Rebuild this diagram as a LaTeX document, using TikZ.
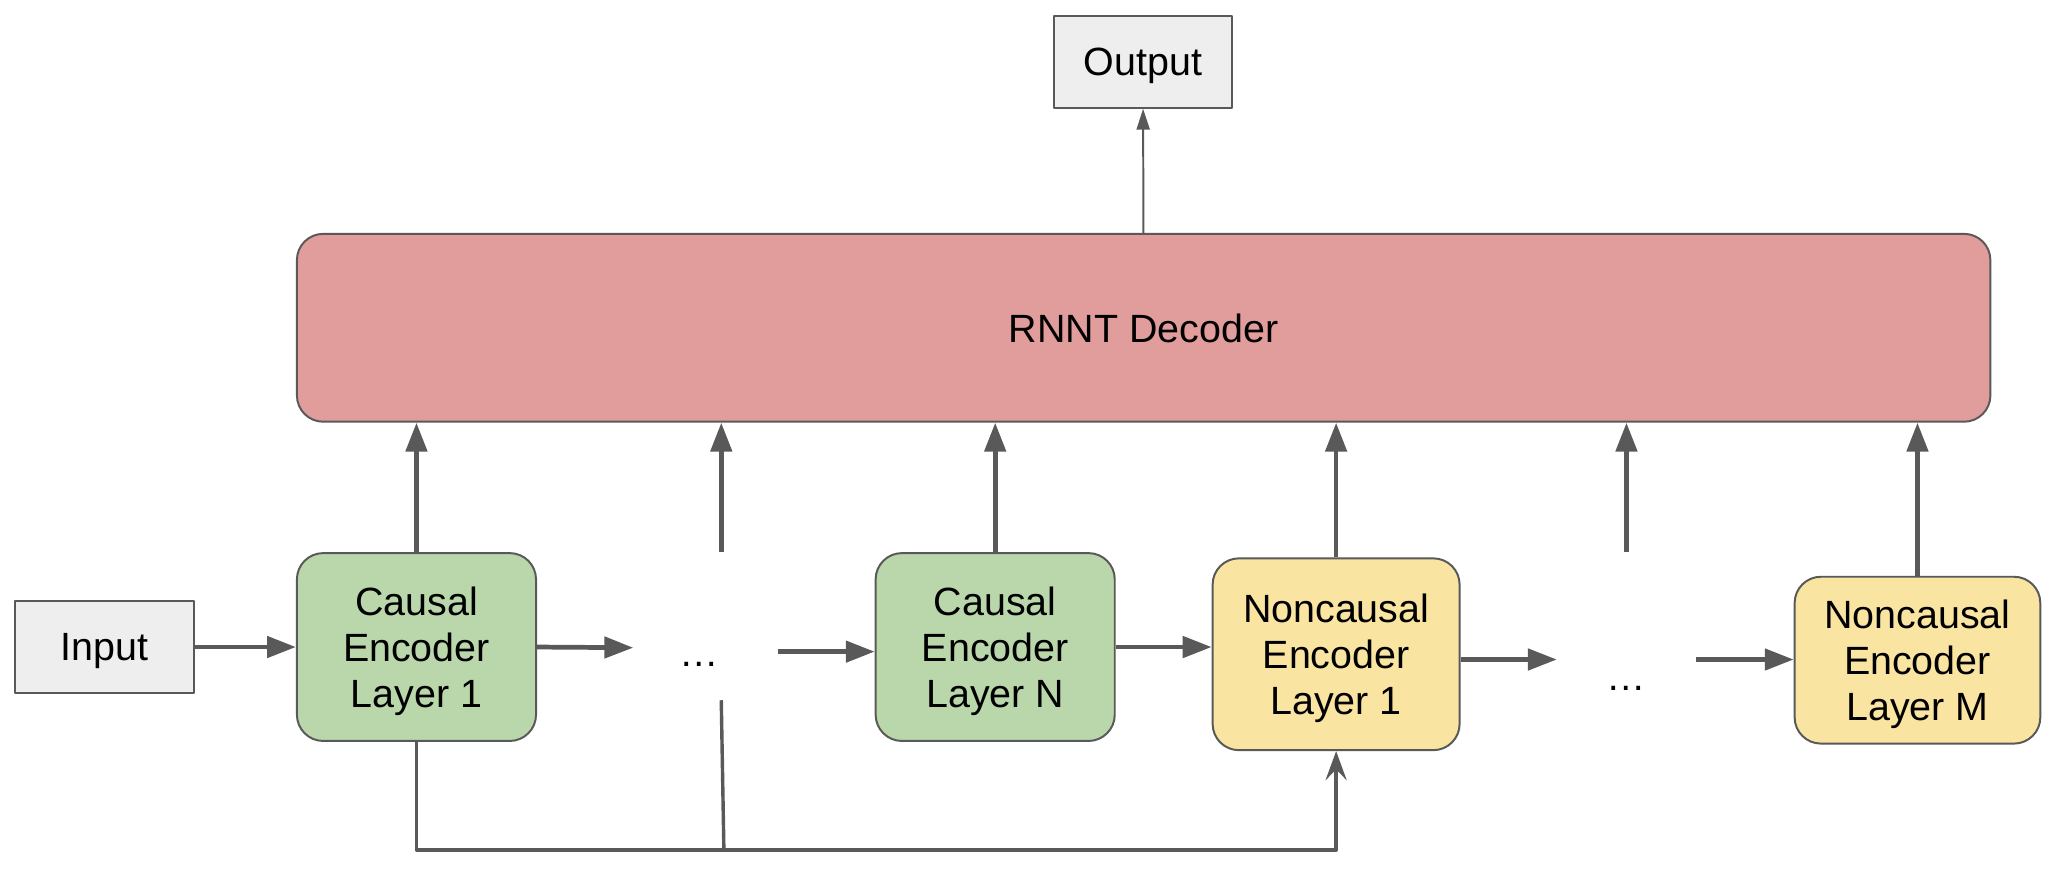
\documentclass[tikz,border=0pt]{standalone}
\usepackage{fontspec}
\setmainfont{Liberation Sans}
\usetikzlibrary{arrows.meta}
\definecolor{linegray}{HTML}{595959}
\definecolor{iobg}{HTML}{EEEEEE}
\definecolor{decred}{HTML}{E09D9B}
\definecolor{causalgreen}{HTML}{BAD7AB}
\definecolor{noncausalyellow}{HTML}{F9E4A1}
\begin{document}
\begin{tikzpicture}[x=0.5pt,y=-0.5pt,line join=round,font=\fontsize{15}{17.5}\selectfont,
	box/.style={draw=linegray,line width=0.75pt,align=center,inner sep=0pt,text depth=0pt},
	iobox/.style={box,fill=iobg,minimum width=68pt,minimum height=35pt},
	layer/.style={box,rounded corners=10pt,minimum width=91pt,minimum height=71.5pt},
	flow/.style={draw=linegray,line width=1.8pt,-{Triangle[length=11pt,width=8pt]}},
	thinflow/.style={draw=linegray,line width=0.75pt,-{Triangle[length=8pt,width=5pt]}},
	skip/.style={draw=linegray,line width=1.3pt}]
	\useasboundingbox (0,0) rectangle (1568,662);
	%Khối
	\node[iobox] (out) at (870,47) {Output};
	\node[box,fill=decred,rounded corners=10pt,minimum width=644.5pt,minimum height=71.5pt] (dec) at (870.5,249.5) {RNNT Decoder};
	\node[iobox] (in) at (79.5,492.5) {Input};
	\node[layer,fill=causalgreen] (c1) at (317,492.5) {Causal\\Encoder\\Layer 1};
	\node[layer,fill=causalgreen] (cN) at (757.5,492.5) {Causal\\Encoder\\Layer N};
	\node[layer,fill=noncausalyellow,minimum width=94pt,minimum height=73pt] (n1) at (1017,498) {Noncausal\\Encoder\\Layer 1};
	\node[layer,fill=noncausalyellow,minimum width=93.5pt,minimum height=63.5pt] (nM) at (1459.5,502.5) {Noncausal\\Encoder\\Layer M};
	\node[inner sep=0pt] (d1) at (532,506) {…};
	\node[inner sep=0pt] (d2) at (1238,524) {…};
	\path (482,493) coordinate (d1w)
	(592,496) coordinate (d1e)
	(1185,502) coordinate (d2w)
	(1291,502) coordinate (d2e)
	(549,420) coordinate (d1n)
	(1238,420) coordinate (d2n)
	(549,533) coordinate (d1s)
	(551,647) coordinate (d1b);
	%Mũi tên
	\draw[thinflow] (dec) -- (out);
	\draw[flow] (in) -- (c1);
	\draw[flow] (c1.east) -- (d1w);
	\draw[flow] (d1e) -- (d1e -| cN.west);
	\draw[flow] (cN.east) -- (cN.east -| n1.west);
	\draw[flow] (d2w -| n1.east) -- (d2w);
	\draw[flow] (d2e) -- (d2e -| nM.west);
	\foreach \t in {c1,d1n,cN,n1,d2n,nM}{
		\draw[flow] (\t) -- (\t |- dec.south);}
	\draw[skip,-{Stealth[length=11pt,width=8pt,inset=4pt]}] (c1.south) -- (c1.south |- d1b) -| (n1.south);
	\draw[skip] (d1s) -- (d1b);
\end{tikzpicture}
\end{document}
